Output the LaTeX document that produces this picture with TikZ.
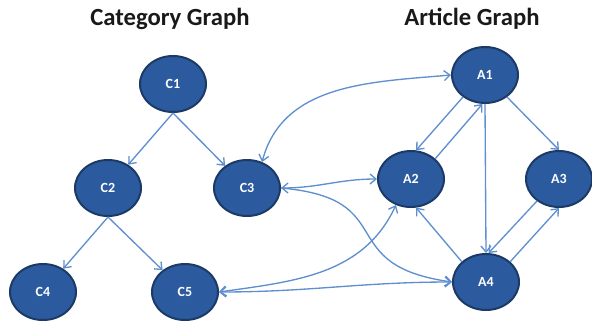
\documentclass[tikz,border=0pt]{standalone}
\usepackage{fontspec}
\setmainfont{Carlito}
\usetikzlibrary{arrows.meta,positioning,shapes.geometric}
\definecolor{nodeblue}{RGB}{43,90,158}
\definecolor{navy}{RGB}{28,58,102}
\definecolor{linkblue}{RGB}{95,143,206}
\definecolor{ink}{RGB}{25,25,25}

\begin{document}
\begin{tikzpicture}[x=0.75pt,y=0.75pt, >={Straight Barb[length=4.5pt,width=7.5pt]},
  v/.style={ellipse,draw=navy,line width=1.5pt,fill=nodeblue,text=white,minimum width=49.5pt,minimum height=42pt,inner sep=0pt,font=\bfseries\fontsize{10.5}{12}\selectfont},
  ttl/.style={text=ink,font=\bfseries\fontsize{18.5}{20}\selectfont},
  a/.style={->,line width=1pt,draw=linkblue},
  aa/.style={<->,line width=1pt,draw=linkblue}]
  \useasboundingbox (0,0) rectangle (592,322);
  \node[ttl] (catttl) at (170,303) {Category Graph};
  \node[ttl] (artttl) at (472,303) {Article Graph};
  % category graph
  \node[v] (c1) at (173,238) {C1};
  \node[v] (c2) at (108,134) {C2};
  \node[v] (c3) at (247,134) {C3};
  \node[v] (c4) at (43,30) {C4};
  \node[v] (c5) at (185,30) {C5};
  % article graph
  \node[v] (a1) at (485,247) {A1};
  \node[v] (a2) at (411,143) {A2};
  \node[v] (a3) at (559,143) {A3};
  \node[v] (a4) at (486,40) {A4};
  \draw[a] (c1.south) -- (c2);
  \draw[a] (c1.south) -- (c3);
  \draw[a] (c2.south) -- (c4);
  \draw[a] (c2.south) -- (c5);
  \draw[a] (a1.225) -- (a2.80);
  \draw[a] (a2.40) -- (a1.265);
  \draw[a] (a1.south) -- (a4.north);
  \draw[a] (a1.-45) -- (a3.north);
  \draw[a] (a4.140) -- (a2.-80);
  \draw[a] (a3.225) -- (a4.85);
  \draw[a] (a4.40) -- (a3.south);
  % links between the graphs
  \draw[aa] (c3.60) to[out=75,in=185] (a1.west);
  \draw[aa] (c3.east) to[out=0,in=180] (a2.west);
  \draw[a] (c3.east) to[out=-5,in=172,looseness=1.6] (a4.west);
  \draw[aa] (c5.east) to[out=8,in=245] (a2.240);
  \draw[aa] (c5.east) to[out=0,in=180] (a4.west);
\end{tikzpicture}
\end{document}
